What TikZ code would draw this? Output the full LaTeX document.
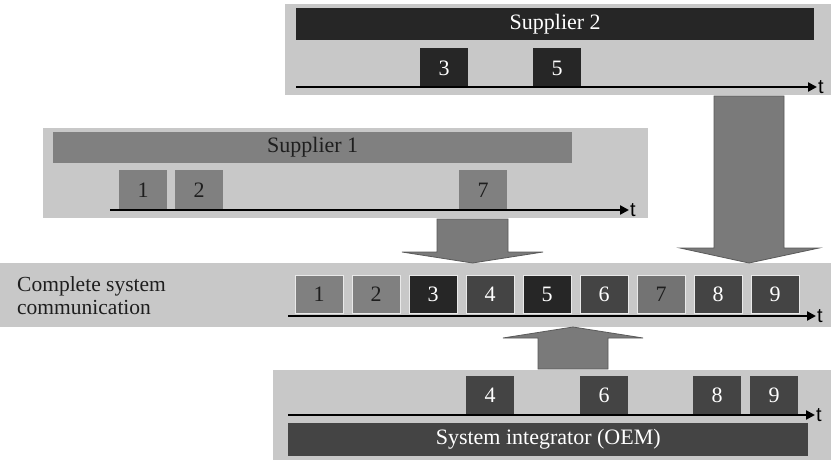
\documentclass[tikz,border=0pt]{standalone}
\usepackage{fontspec}
\setmainfont{Liberation Serif}
\newfontfamily\axisfont{Liberation Sans}
\usetikzlibrary{arrows.meta}
\definecolor{panelgray}{HTML}{C8C8C8}
\definecolor{supone}{HTML}{808080}
\definecolor{suptwo}{HTML}{262626}
\definecolor{oemgray}{HTML}{444444}
\definecolor{arrowgray}{HTML}{7A7A7A}
\definecolor{arrowedge}{HTML}{5A5A5A}
\definecolor{textdark}{HTML}{1E1E1E}
\tikzset{
  panel/.style={fill=panelgray, inner sep=0pt, anchor=north west},
  bar/.style={inner sep=0pt, anchor=north west, font=\fontsize{22}{24}\selectfont},
  msg/.style={inner sep=0pt, anchor=north west, minimum width=48pt, text depth=0pt, font=\fontsize{22}{24}\selectfont},
  timeaxis/.style={line width=2.6pt, -{Triangle[length=9pt,width=9pt]}},
  tlabel/.style={font=\axisfont\fontsize{20}{22}\selectfont, anchor=west, inner sep=1pt},
  bigarrow/.style={fill=arrowgray, draw=arrowedge, line width=0.8pt, line join=miter},
}
\begin{document}
\begin{tikzpicture}[x=1pt,y=-1pt]
\useasboundingbox[fill=white] (0,0) rectangle (831,460);
% supplier 2
\node[panel, minimum width=546pt, minimum height=91pt] (p2) at (285,4) {};
\node[bar, fill=suptwo, text=white, minimum width=518pt, minimum height=32pt] (s2) at (296,8) {Supplier 2};
\node[msg, fill=suptwo, text=white, minimum height=40pt] (s2m3) at (420,48) {3};
\node[msg, fill=suptwo, text=white, minimum height=40pt] (s2m5) at (533,48) {5};
\coordinate (s2a) at (296,87);
\node[tlabel] (s2t) at (817,87) {t};
\draw[timeaxis] (s2a) -- (s2t.west);
% supplier 1
\node[panel, minimum width=605pt, minimum height=90pt] (p1) at (43,128) {};
\node[bar, fill=supone, text=textdark, minimum width=519pt, minimum height=31pt] (s1) at (53,132) {Supplier 1};
\node[msg, fill=supone, text=textdark, minimum height=40pt] (s1m1) at (119,170) {1};
\node[msg, fill=supone, text=textdark, minimum height=40pt] (s1m2) at (175,170) {2};
\node[msg, fill=supone, text=textdark, minimum height=40pt] (s1m7) at (459,170) {7};
\coordinate (s1a) at (110,210);
\node[tlabel] (s1t) at (629,210) {t};
\draw[timeaxis] (s1a) -- (s1t.west);
% complete system
\node[panel, minimum width=831pt, minimum height=64pt] (pc) at (0,263) {};
\node[anchor=west, align=left, inner sep=0pt, text=textdark, font=\fontsize{21.5}{23}\selectfont] (cl) at (17,296) {Complete system\\communication};
\node[msg, fill=supone, text=textdark, minimum height=38pt, draw=panelgray!40!white] (c1) at (295,275) {1};
\node[msg, fill=supone, text=textdark, minimum height=38pt, draw=panelgray!40!white] (c2) at (352,275) {2};
\node[msg, fill=suptwo, text=white, minimum height=38pt, draw=panelgray!40!white] (c3) at (409,275) {3};
\node[msg, fill=oemgray, text=white, minimum height=38pt, draw=panelgray!40!white] (c4) at (466,275) {4};
\node[msg, fill=suptwo, text=white, minimum height=38pt, draw=panelgray!40!white] (c5) at (523,275) {5};
\node[msg, fill=oemgray, text=white, minimum height=38pt, draw=panelgray!40!white] (c6) at (580,275) {6};
\node[msg, fill=supone!110!white, text=textdark, minimum height=38pt, draw=panelgray!40!white] (c7) at (637,275) {7};
\node[msg, fill=oemgray, text=white, minimum height=38pt, draw=panelgray!40!white] (c8) at (694,275) {8};
\node[msg, fill=oemgray, text=white, minimum height=38pt, draw=panelgray!40!white] (c9) at (751,275) {9};
\coordinate (ca) at (288,316);
\node[tlabel] (ct) at (816,316) {t};
\draw[timeaxis] (ca) -- (ct.west);
% system integrator
\node[panel, minimum width=558pt, minimum height=90pt] (po) at (273,370) {};
\node[msg, fill=oemgray, text=white, minimum height=38pt] (om4) at (466,376) {4};
\node[msg, fill=oemgray, text=white, minimum height=38pt] (om6) at (580,376) {6};
\node[msg, fill=oemgray, text=white, minimum height=38pt] (om8) at (693,376) {8};
\node[msg, fill=oemgray, text=white, minimum height=38pt] (om9) at (750,376) {9};
\coordinate (oa) at (288,415);
\node[tlabel] (ot) at (815,415) {t};
\draw[timeaxis] (oa) -- (ot.west);
\node[bar, fill=oemgray, text=white, minimum width=520pt, minimum height=33pt] (oem) at (288,423) {System integrator (OEM)};
% block arrows
\draw[bigarrow] (437,219) -- (508,219) -- (508,252) -- (543,252) -- (472.5,263) -- (402,252) -- (437,252) -- cycle;
\draw[bigarrow] (714,96) -- (784,96) -- (784,248) -- (819,248) -- (749,263) -- (680,248) -- (714,248) -- cycle;
\draw[bigarrow] (538,369) -- (608,369) -- (608,338) -- (643,338) -- (573,327) -- (503,338) -- (538,338) -- cycle;
\end{tikzpicture}
\end{document}
